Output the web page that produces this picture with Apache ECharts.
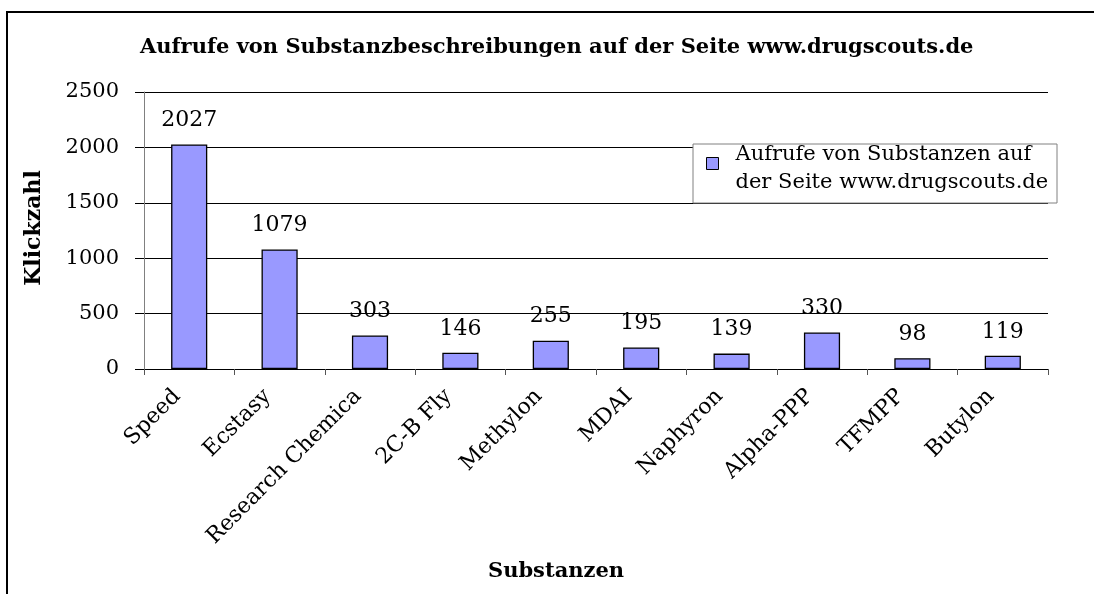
<!DOCTYPE html>
<html>
<head>
<meta charset="utf-8">
<script src="https://cdn.jsdelivr.net/npm/echarts@6/dist/echarts.min.js"></script>
<style>
  html, body { margin: 0; padding: 0; background: #fff; }
  #container { width: 1094px; height: 594px; }
</style>
</head>
<body>
<div id="container"></div>
<script>
var categories = ['Speed', 'Ecstasy', 'Research Chemicals', '2C-B Fly', 'Methylon',
    'MDAI', 'Naphyron', 'Alpha-PPP', 'TFMPP', 'Butylon'];
var clicks = [2027, 1079, 303, 146, 255, 195, 139, 330, 98, 119];
var seriesName = 'Aufrufe von Substanzen auf der Seite www.drugscouts.de';
var yTicks = [0, 500, 1000, 1500, 2000, 2500];

var serif = '"DejaVu Serif", "Liberation Serif", serif';

!(function () {
    var dom = document.getElementById('container');
    var myChart = echarts.init(dom);
    var option = {
        backgroundColor: '#fff',
        animation: false,
        title: {
            text: 'Aufrufe von Substanzbeschreibungen auf der Seite www.drugscouts.de',
            left: 140,
            top: 37,
            padding: 0,
            textStyle: { fontFamily: serif, fontSize: 21, fontWeight: 'bold', color: '#000' }
        },
        legend: {
            left: 706,
            top: 141,
            // square sits in the top-left of a larger (invisible) icon box
            icon: 'path://M0,0L12,0L12,12L0,12ZM24,23',
            itemWidth: 24,
            itemHeight: 23,
            itemGap: 0,
            padding: 0,
            data: [seriesName],
            formatter: function () { return 'Aufrufe von Substanzen auf\nder Seite www.drugscouts.de'; },
            textStyle: { fontFamily: serif, fontSize: 21, color: '#000', lineHeight: 28 },
            itemStyle: { borderColor: '#000', borderWidth: 1 },
            z: 5
        },
        grid: { left: 144, right: 46, top: 92, bottom: 225 },
        xAxis: {
            type: 'category',
            data: categories,
            axisLine: { lineStyle: { color: '#000', width: 1 } },
            axisTick: { show: true, alignWithLabel: false, length: 6, lineStyle: { color: '#555' } },
            axisLabel: {
                rotate: 45, margin: 12, color: '#000',
                fontFamily: serif, fontSize: 22,
                padding: [0, 17, 0, 0],
                width: 210, overflow: 'truncate', ellipsis: ''
            }
        },
        yAxis: {
            type: 'value',
            min: yTicks[0],
            max: yTicks[yTicks.length - 1],
            interval: 500,
            axisLine: { show: true, lineStyle: { color: '#808080', width: 1 } },
            axisTick: { show: true, length: 9, lineStyle: { color: '#000' } },
            axisLabel: {
                margin: 25, color: '#000', fontFamily: serif, fontSize: 21,
                formatter: function (v) { return String(v); }
            },
            splitLine: { show: true, lineStyle: { color: '#000', width: 1 } }
        },
        series: [{
            name: seriesName,
            type: 'bar',
            data: clicks,
            barWidth: '40%',
            itemStyle: { color: '#9999FF', borderColor: '#000', borderWidth: 1.3 },
            label: {
                show: true, position: 'top', distance: 13,
                color: '#000', fontFamily: serif, fontSize: 22
            }
        }],
        graphic: [
            {
                type: 'rect', z: 4,
                shape: { x: 693, y: 144, width: 364, height: 59 },
                style: { fill: '#fff', stroke: '#808080', lineWidth: 1 }
            },
            {
                type: 'text', x: 34, y: 228, rotation: Math.PI / 2,
                style: {
                    text: 'Klickzahlen', x: 0, y: 0, align: 'center', verticalAlign: 'middle',
                    fontFamily: serif, fontSize: 22, fontWeight: 'bold', fill: '#000',
                    width: 124, overflow: 'truncate', ellipsis: ''
                }
            },
            {
                type: 'text', left: 488, top: 561,
                style: { text: 'Substanzen', fontFamily: serif, fontSize: 21, fontWeight: 'bold', fill: '#000' }
            },
            {
                type: 'rect', z: 10, silent: true,
                shape: { x: 7, y: 12, width: 1100, height: 600 },
                style: { fill: 'none', stroke: '#000', lineWidth: 2 }
            }
        ]
    };
    myChart.setOption(option, true);
}());
</script>
</body>
</html>
